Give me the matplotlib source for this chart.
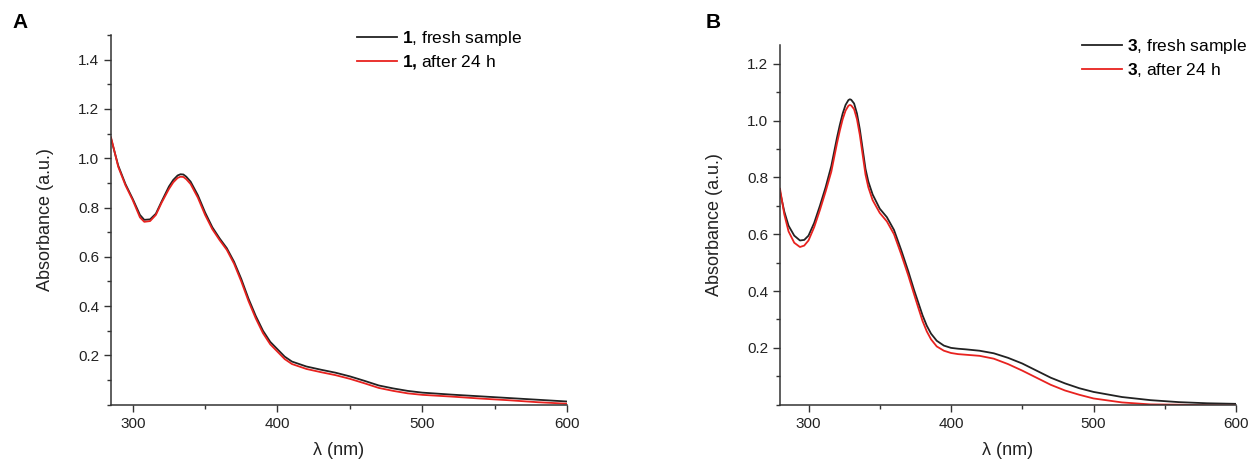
import matplotlib
matplotlib.use("Agg")
import matplotlib.pyplot as plt
from matplotlib.ticker import MultipleLocator

plt.rcParams["font.family"] = ["Liberation Sans", "DejaVu Sans"]
plt.rcParams["mathtext.fontset"] = "custom"
plt.rcParams["mathtext.bf"] = "Liberation Sans:bold"
plt.rcParams["mathtext.rm"] = "Liberation Sans"

# Panel A: compound 1
wl_a = [285, 290, 295, 300, 305, 308, 312, 316, 320, 325, 328, 331, 333, 335,
        337, 340, 345, 350, 355, 360, 365, 370, 375, 380, 385, 390, 395, 400,
        405, 410, 420, 430, 440, 450, 460, 470, 480, 490, 500, 520, 540, 560,
        580, 600]
fresh_a = [1.08, 0.97, 0.895, 0.835, 0.77, 0.75, 0.752, 0.775, 0.825, 0.885,
           0.912, 0.93, 0.935, 0.934, 0.925, 0.905, 0.85, 0.78, 0.72, 0.675,
           0.635, 0.58, 0.51, 0.43, 0.36, 0.30, 0.255, 0.225, 0.195, 0.175,
           0.155, 0.142, 0.13, 0.115, 0.097, 0.078, 0.066, 0.056, 0.049,
           0.041, 0.034, 0.027, 0.02, 0.013]
aged_a = [1.085, 0.965, 0.89, 0.83, 0.76, 0.742, 0.745, 0.77, 0.82, 0.875,
          0.902, 0.92, 0.925, 0.924, 0.915, 0.895, 0.84, 0.77, 0.712, 0.668,
          0.628, 0.572, 0.50, 0.42, 0.35, 0.29, 0.245, 0.215, 0.185, 0.165,
          0.145, 0.132, 0.12, 0.105, 0.087, 0.068, 0.056, 0.046, 0.04, 0.033,
          0.025, 0.018, 0.01, 0.004]

# Panel B: compound 3
wl_b = [280, 283, 286, 290, 294, 297, 300, 304, 308, 312, 316, 318, 320, 322,
        324, 326, 328, 329, 330, 332, 334, 336, 338, 340, 342, 345, 350, 355,
        360, 365, 370, 374, 377, 380, 383, 386, 390, 395, 400, 405, 410, 420,
        430, 440, 450, 460, 470, 480, 490, 500, 520, 540, 560, 580, 600]
fresh_b = [0.75, 0.68, 0.63, 0.595, 0.578, 0.58, 0.595, 0.64, 0.70, 0.765,
           0.84, 0.89, 0.94, 0.985, 1.025, 1.055, 1.072, 1.075, 1.073, 1.06,
           1.025, 0.97, 0.90, 0.83, 0.785, 0.74, 0.69, 0.66, 0.615, 0.545,
           0.47, 0.405, 0.36, 0.315, 0.278, 0.25, 0.225, 0.208, 0.20, 0.197,
           0.195, 0.19, 0.181, 0.165, 0.145, 0.12, 0.095, 0.075, 0.058,
           0.045, 0.027, 0.016, 0.009, 0.005, 0.003]
aged_b = [0.76, 0.67, 0.61, 0.57, 0.555, 0.56, 0.578, 0.625, 0.685, 0.75,
          0.82, 0.87, 0.92, 0.965, 1.005, 1.035, 1.052, 1.055, 1.053, 1.04,
          1.005, 0.95, 0.88, 0.81, 0.765, 0.72, 0.675, 0.645, 0.60, 0.53,
          0.455, 0.39, 0.342, 0.295, 0.258, 0.23, 0.205, 0.19, 0.182, 0.178,
          0.176, 0.172, 0.162, 0.143, 0.12, 0.095, 0.07, 0.05, 0.035, 0.022,
          0.008, 0.001, 0.0, -0.002, -0.003]

BLACK = "#222222"
RED = "#e8221f"
W, H = 1251, 461


def style_axes(ax, xlim, ylim, ymajor):
    ax.set_xlim(*xlim)
    ax.set_ylim(*ylim)
    ax.spines["top"].set_visible(False)
    ax.spines["right"].set_visible(False)
    for s in ("left", "bottom"):
        ax.spines[s].set_linewidth(1.1)
        ax.spines[s].set_color("#333333")
    ax.xaxis.set_major_locator(MultipleLocator(100))
    ax.xaxis.set_minor_locator(MultipleLocator(50))
    ax.yaxis.set_major_locator(MultipleLocator(ymajor))
    ax.yaxis.set_minor_locator(MultipleLocator(ymajor / 2))
    ax.tick_params(which="major", direction="out", length=5, width=1.0,
                   labelsize=11, colors="#333333", labelcolor="#222222")
    ax.tick_params(which="minor", direction="out", length=3, width=1.0,
                   colors="#333333")
    ax.set_xlabel("λ (nm)", fontsize=13, color="#222222")
    ax.set_ylabel("Absorbance (a.u.)", fontsize=13, color="#222222")
    ax.yaxis.set_label_coords(-0.125, 0.5)


fig = plt.figure(figsize=(W / 100, H / 100), dpi=100)

# panel A
ax_a = fig.add_axes([111 / W, 1 - 404.7 / H, 456 / W, 369.7 / H])
ax_a.plot(wl_a, fresh_a, color=BLACK, lw=1.3, label=r"$\mathbf{1}$, fresh sample")
ax_a.plot(wl_a, aged_a, color=RED, lw=1.3, label=r"$\mathbf{1{,}}$ after 24 h")
style_axes(ax_a, (285, 600), (0, 1.5), 0.2)
ax_a.set_yticks([0.2, 0.4, 0.6, 0.8, 1.0, 1.2, 1.4])
ax_a.xaxis.set_label_coords(0.5, -0.1)
ax_a.legend(loc="upper left", bbox_to_anchor=(357 / W, 1 - 29 / H),
            bbox_transform=fig.transFigure, frameon=False, fontsize=12.5,
            handlelength=2.3, handletextpad=0.3, borderpad=0,
            borderaxespad=0, labelspacing=0.3)
fig.text(12 / W, 1 - 23 / H, "A", fontsize=15, fontweight="bold",
         va="center", ha="left")

# panel B
ax_b = fig.add_axes([780 / W, 1 - 404.7 / H, 456 / W, 359.7 / H])
ax_b.plot(wl_b, fresh_b, color=BLACK, lw=1.3, label=r"$\mathbf{3}$, fresh sample")
ax_b.plot(wl_b, aged_b, color=RED, lw=1.3, label=r"$\mathbf{3}$, after 24 h")
style_axes(ax_b, (280, 600), (0, 1.266), 0.2)
ax_b.set_yticks([0.2, 0.4, 0.6, 0.8, 1.0, 1.2])
ax_b.xaxis.set_label_coords(0.5, -0.103)
ax_b.legend(loc="upper left", bbox_to_anchor=(1082 / W, 1 - 37 / H),
            bbox_transform=fig.transFigure, frameon=False, fontsize=12.5,
            handlelength=2.3, handletextpad=0.3, borderpad=0,
            borderaxespad=0, labelspacing=0.3)
fig.text(706 / W, 1 - 23 / H, "B", fontsize=15, fontweight="bold",
         va="center", ha="left")

fig.savefig("out.png", dpi=100)
